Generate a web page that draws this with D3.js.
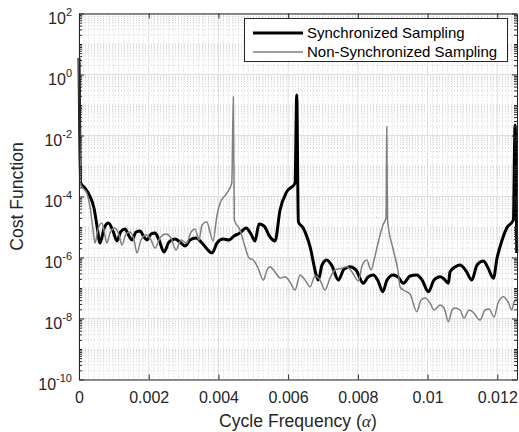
<!DOCTYPE html>
<html>
<head>
<meta charset="utf-8">
<script src="https://cdn.jsdelivr.net/npm/d3@7"></script>
<style>
    body { margin: 0; background: #ffffff; }
    svg { display: block; font-family: "Liberation Sans", Arial, sans-serif; }
</style>
</head>
<body>
<script>
(function(){

    //values: [cycle frequency, cost function]
    var synchData = [
        [0, 3.5], [0.049e-3, 2.77e-4], [0.172e-3, 1.90e-4], [0.316e-3, 1.0e-4],
        [0.430e-3, 4.20e-5], [0.516e-3, 1.08e-5], [0.603e-3, 2.99e-6], [0.732e-3, 1.0e-5],
        [0.846e-3, 1.35e-5], [0.976e-3, 7.39e-6], [1.090e-3, 3.48e-6], [1.191e-3, 6.86e-6],
        [1.320e-3, 8.60e-6], [1.435e-3, 5.07e-6], [1.521e-3, 3.75e-6], [1.636e-3, 6.86e-6],
        [1.750e-3, 7.39e-6], [1.865e-3, 4.70e-6], [1.951e-3, 3.75e-6], [2.066e-3, 5.89e-6],
        [2.181e-3, 6.36e-6], [2.296e-3, 3.75e-6], [2.439e-3, 1.51e-6], [2.582e-3, 3.22e-6],
        [2.755e-3, 4.04e-6], [2.898e-3, 3.22e-6], [3.042e-3, 2.38e-6], [3.185e-3, 3.75e-6],
        [3.357e-3, 4.36e-6], [3.529e-3, 2.99e-6], [3.673e-3, 1.90e-6], [3.816e-3, 1.41e-6],
        [3.960e-3, 2.99e-6], [4.132e-3, 4.04e-6], [4.304e-3, 3.75e-6], [4.448e-3, 5.07e-6],
        [4.620e-3, 6.36e-6], [4.792e-3, 9.27e-6], [4.935e-3, 5.89e-6], [5.050e-3, 3.48e-6],
        [5.165e-3, 1.25e-5], [5.308e-3, 1.08e-5], [5.481e-3, 4.70e-6], [5.624e-3, 3.48e-6],
        [5.768e-3, 3.61e-5], [5.960e-3, 1.44e-4], [6.198e-3, 2.71e-4], [6.247e-3, 2.13e-1],
        [6.293e-3, 1.49e-5], [6.436e-3, 9.06e-6], [6.628e-3, 2.26e-6], [6.821e-3, 2.34e-7],
        [6.867e-3, 1.83e-7], [6.973e-3, 5.68e-7], [7.108e-3, 8.28e-7], [7.260e-3, 5.26e-7],
        [7.441e-3, 1.83e-7], [7.604e-3, 4.20e-7], [7.776e-3, 4.99e-7], [7.948e-3, 3.89e-7],
        [8.158e-3, 1.43e-7], [8.293e-3, 2.30e-7], [8.445e-3, 2.67e-7], [8.580e-3, 1.70e-7],
        [8.714e-3, 7.56e-8], [8.838e-3, 1.83e-7], [9.018e-3, 2.67e-7], [9.153e-3, 2.30e-7],
        [9.306e-3, 1.43e-7], [9.498e-3, 2.47e-7], [9.690e-3, 2.67e-7], [9.842e-3, 1.83e-7],
        [10.023e-3, 7.56e-8], [10.186e-3, 1.83e-7], [10.359e-3, 2.34e-7], [10.473e-3, 1.97e-7],
        [10.597e-3, 1.43e-7], [10.646e-3, 3.42e-7], [10.789e-3, 4.88e-7], [10.932e-3, 5.68e-7],
        [11.105e-3, 3.61e-7], [11.268e-3, 1.83e-7], [11.420e-3, 5.68e-7], [11.601e-3, 7.68e-7],
        [11.736e-3, 4.53e-7], [11.888e-3, 2.08e-7], [11.994e-3, 9.64e-7], [12.080e-3, 2.26e-6],
        [12.272e-3, 9.27e-6], [12.462e-3, 1.70e-5], [12.511e-3, 2.21e-2], [12.559e-3, 1.41e-6]
    ];

    var nonSynchData = [
        [0, 3.5], [0.049e-3, 2.38e-4], [0.221e-3, 1.30e-4], [0.316e-3, 4.63e-5],
        [0.402e-3, 7.97e-6], [0.459e-3, 2.99e-6], [0.545e-3, 8.60e-6], [0.651e-3, 1.35e-5],
        [0.717e-3, 7.97e-6], [0.795e-3, 2.99e-6], [0.890e-3, 6.36e-6], [1.033e-3, 9.27e-6],
        [1.148e-3, 5.47e-6], [1.234e-3, 2.57e-6], [1.349e-3, 5.89e-6], [1.463e-3, 6.86e-6],
        [1.578e-3, 3.75e-6], [1.664e-3, 1.41e-6], [1.779e-3, 3.75e-6], [1.922e-3, 5.47e-6],
        [2.066e-3, 3.75e-6], [2.181e-3, 2.05e-6], [2.324e-3, 4.36e-6], [2.496e-3, 5.89e-6],
        [2.640e-3, 4.36e-6], [2.783e-3, 1.76e-6], [2.927e-3, 3.75e-6], [3.090e-3, 2.99e-6],
        [3.214e-3, 6.86e-6], [3.329e-3, 8.60e-6], [3.443e-3, 3.75e-6], [3.529e-3, 1.16e-5],
        [3.664e-3, 1.49e-5], [3.759e-3, 6.86e-6], [3.845e-3, 3.48e-6], [3.960e-3, 2.47e-5],
        [4.046e-3, 5.98e-5], [4.238e-3, 1.27e-4], [4.382e-3, 2.71e-4], [4.428e-3, 1.87e-1],
        [4.456e-3, 1.70e-5], [4.620e-3, 7.97e-6], [4.763e-3, 2.26e-6], [4.878e-3, 9.64e-7],
        [5.001e-3, 8.28e-7], [5.136e-3, 4.53e-7], [5.288e-3, 1.83e-7], [5.394e-3, 3.89e-7],
        [5.481e-3, 4.99e-7], [5.624e-3, 3.35e-7], [5.768e-3, 2.13e-7], [5.911e-3, 2.34e-7],
        [6.055e-3, 1.57e-7], [6.198e-3, 8.6e-8], [6.341e-3, 2.67e-7], [6.485e-3, 1.83e-7],
        [6.628e-3, 1.10e-7], [6.772e-3, 2.47e-7], [6.915e-3, 1.83e-7], [7.059e-3, 8.6e-8],
        [7.202e-3, 2.13e-7], [7.346e-3, 3.89e-7], [7.538e-3, 4.43e-7], [7.681e-3, 4.99e-7],
        [7.833e-3, 3.35e-7], [8.014e-3, 1.70e-7], [8.120e-3, 5.26e-7], [8.255e-3, 8.28e-7],
        [8.379e-3, 3.89e-7], [8.465e-3, 8.28e-7], [8.580e-3, 2.99e-6], [8.732e-3, 1.25e-5],
        [8.809e-3, 1.97e-5], [8.829e-3, 1.95e-2], [8.852e-3, 1.70e-5], [9.018e-3, 1.76e-6],
        [9.162e-3, 3.10e-7], [9.211e-3, 1.08e-7], [9.354e-3, 7.97e-8], [9.498e-3, 6.36e-8],
        [9.690e-3, 1.67e-8], [9.813e-3, 4.04e-8], [9.928e-3, 4.70e-8], [10.072e-3, 3.22e-8],
        [10.186e-3, 1.90e-8], [10.359e-3, 2.77e-8], [10.473e-3, 2.21e-8], [10.597e-3, 7.85e-9],
        [10.703e-3, 1.90e-8], [10.789e-3, 2.21e-8], [10.932e-3, 1.90e-8], [11.047e-3, 1.04e-8],
        [11.191e-3, 1.90e-8], [11.305e-3, 1.63e-8], [11.506e-3, 8.93e-9], [11.650e-3, 1.90e-8],
        [11.765e-3, 2.05e-8], [11.908e-3, 1.12e-8], [12.023e-3, 3.22e-8], [12.175e-3, 5.19e-8],
        [12.309e-3, 3.48e-8], [12.416e-3, 1.90e-8], [12.482e-3, 3.48e-8], [12.568e-3, 4.36e-8]
    ];

    //tick values and labels
    var xTicks = [0, 0.002, 0.004, 0.006, 0.008, 0.01, 0.012];
    var xTickLabels = ["0", "0.002", "0.004", "0.006", "0.008", "0.01", "0.012"];
    var yTickExps = [2, 0, -2, -4, -6, -8, -10];
    var seriesNames = ["Synchronized Sampling", "Non-Synchronized Sampling"];
    var xDomain = [0, 0.012566],
        yDomain = [1e-10, 1e2];

    window.onload = setChart();

    function setChart(){

        //frame dimensions
        var width = 519,
            height = 432,
            left = 79,
            right = 517,
            top = 13.5,
            bottom = 379.5,
            axisColor = "#262626";

        var svg = d3.select("body")
            .append("svg")
            .attr("width", width)
            .attr("height", height);

        var x = d3.scaleLinear()
            .domain(xDomain)
            .range([left, right]);

        var y = d3.scaleLog()
            .domain(yDomain)
            .range([bottom, top]);

        //minor grid positions (14 divisions per major x step, 2..9 per decade in y)
        var xStep = (xTicks[1] - xTicks[0]) / 14;
        var xMinor = d3.range(1, Math.floor(xDomain[1] / xStep) + 1)
            .filter(function(k){ return k % 14 !== 0; })
            .map(function(k){ return k * xStep; });

        var yMajor = yTickExps.map(function(e){ return Math.pow(10, e); });
        var yMinor = [];
        for (var e = -10; e < 2; e++){
            for (var m = 1; m < 10; m++){
                if (m == 1 && e % 2 === 0) continue;
                yMinor.push(m * Math.pow(10, e));
            }
        }

        //white plot background
        svg.append("rect")
            .attr("x", left)
            .attr("y", top)
            .attr("width", right - left)
            .attr("height", bottom - top)
            .attr("fill", "#ffffff");

        //minor grid, dotted
        var grid = svg.append("g").attr("class", "grid");
        grid.selectAll(".xMinor")
            .data(xMinor)
            .enter()
            .append("line")
            .attr("class", "xMinor")
            .attr("x1", function(d){ return x(d); })
            .attr("x2", function(d){ return x(d); })
            .attr("y1", top)
            .attr("y2", bottom)
            .attr("stroke", "#d2d2d2")
            .attr("stroke-dasharray", "1,2");

        grid.selectAll(".yMinor")
            .data(yMinor)
            .enter()
            .append("line")
            .attr("class", "yMinor")
            .attr("x1", left)
            .attr("x2", right)
            .attr("y1", function(d){ return y(d); })
            .attr("y2", function(d){ return y(d); })
            .attr("stroke", "#d2d2d2")
            .attr("stroke-dasharray", "1,2");

        //major grid, solid
        grid.selectAll(".xMajor")
            .data(xTicks)
            .enter()
            .append("line")
            .attr("class", "xMajor")
            .attr("x1", function(d){ return x(d); })
            .attr("x2", function(d){ return x(d); })
            .attr("y1", top)
            .attr("y2", bottom)
            .attr("stroke", "#dfdfdf");

        grid.selectAll(".yMajor")
            .data(yMajor)
            .enter()
            .append("line")
            .attr("class", "yMajor")
            .attr("x1", left)
            .attr("x2", right)
            .attr("y1", function(d){ return y(d); })
            .attr("y2", function(d){ return y(d); })
            .attr("stroke", "#dfdfdf");

        //clip lines near the plot box (a little slack so lines on the edge stay visible)
        svg.append("clipPath")
            .attr("id", "plotClip")
            .append("rect")
            .attr("x", left - 2)
            .attr("y", top)
            .attr("width", right - left + 4)
            .attr("height", bottom - top);

        var line = d3.line()
            .x(function(d){ return x(d[0]); })
            .y(function(d){ return y(d[1]); })
            .curve(d3.curveMonotoneX);

        var lines = svg.append("g").attr("clip-path", "url(#plotClip)");

        lines.append("path")
            .datum(synchData)
            .attr("class", "synch")
            .attr("d", line)
            .attr("fill", "none")
            .attr("stroke", "#000000")
            .attr("stroke-width", 3)
            .attr("stroke-linejoin", "round");

        lines.append("path")
            .datum(nonSynchData)
            .attr("class", "nonSynch")
            .attr("d", line)
            .attr("fill", "none")
            .attr("stroke", "#808080")
            .attr("stroke-width", 1.5)
            .attr("stroke-linejoin", "round");

        //axes with inward ticks
        var xAxis = d3.axisBottom(x)
            .tickValues(xTicks)
            .tickFormat(function(d, i){ return xTickLabels[i]; })
            .tickSizeInner(-5)
            .tickSizeOuter(0)
            .tickPadding(12.5);

        var xTop = d3.axisTop(x)
            .tickValues(xTicks)
            .tickFormat("")
            .tickSizeInner(-5)
            .tickSizeOuter(0);

        var yAxis = d3.axisLeft(y)
            .tickValues(yMajor)
            .tickFormat("")
            .tickSizeInner(-5)
            .tickSizeOuter(0)
            .tickPadding(7);

        var yRight = d3.axisRight(y)
            .tickValues(yMajor)
            .tickFormat("")
            .tickSizeInner(-5)
            .tickSizeOuter(0);

        var yMinorLeft = d3.axisLeft(y)
            .tickValues(yMinor)
            .tickFormat("")
            .tickSizeInner(-3)
            .tickSizeOuter(0);

        var yMinorRight = d3.axisRight(y)
            .tickValues(yMinor)
            .tickFormat("")
            .tickSizeInner(-3)
            .tickSizeOuter(0);

        var gx = svg.append("g")
            .attr("transform", "translate(0," + bottom + ")")
            .call(xAxis);
        var gxTop = svg.append("g")
            .attr("transform", "translate(0," + top + ")")
            .call(xTop);
        var gy = svg.append("g")
            .attr("transform", "translate(" + left + ",0)")
            .call(yAxis);
        var gyRight = svg.append("g")
            .attr("transform", "translate(" + right + ",0)")
            .call(yRight);
        var gyMinL = svg.append("g")
            .attr("transform", "translate(" + left + ",0)")
            .call(yMinorLeft);
        var gyMinR = svg.append("g")
            .attr("transform", "translate(" + right + ",0)")
            .call(yMinorRight);

        [gx, gxTop, gy, gyRight, gyMinL, gyMinR].forEach(function(g){
            g.attr("font-family", null).attr("font-size", 16);
            g.select(".domain").attr("stroke", axisColor);
            g.selectAll(".tick line").attr("stroke", axisColor);
            g.selectAll(".tick text").attr("fill", axisColor);
        });

        //10^n labels on the y axis
        gy.selectAll(".tick text").each(function(d, i){
            var t = d3.select(this)
                .attr("dy", null)
                .attr("y", 9.5);
            t.append("tspan").text("10");
            t.append("tspan")
                .attr("font-size", 11)
                .attr("dy", -8)
                .text(yTickExps[i]);
        });

        //axis titles
        svg.append("text")
            .attr("x", (left + right) / 2)
            .attr("y", 427)
            .attr("text-anchor", "middle")
            .attr("font-size", 17.6)
            .attr("fill", axisColor)
            .text("Cycle Frequency (")
            .append("tspan")
            .attr("font-family", "'Liberation Serif', serif")
            .attr("font-style", "italic")
            .text("\u03b1")
            .select(function(){ return this.parentNode; })
            .append("tspan")
            .text(")");

        svg.append("text")
            .attr("transform", "translate(23," + ((top + bottom) / 2) + ") rotate(-90)")
            .attr("text-anchor", "middle")
            .attr("font-size", 17.6)
            .attr("fill", axisColor)
            .text("Cost Function");

        //legend
        var legend = svg.append("g").attr("class", "legend");
        legend.append("rect")
            .attr("x", 244.5)
            .attr("y", 18.5)
            .attr("width", 263)
            .attr("height", 43)
            .attr("fill", "#ffffff")
            .attr("stroke", axisColor);

        var legendStyles = [
            {color: "#000000", width: 3},
            {color: "#808080", width: 1.5}
        ];

        seriesNames.forEach(function(name, i){
            var rowY = 33 + i * 19;
            legend.append("line")
                .attr("x1", 253)
                .attr("x2", 303)
                .attr("y1", rowY)
                .attr("y2", rowY)
                .attr("stroke", legendStyles[i].color)
                .attr("stroke-width", legendStyles[i].width);
            legend.append("text")
                .attr("x", 307)
                .attr("y", rowY + 5.3)
                .attr("font-size", 15)
                .attr("fill", "#000000")
                .text(name);
        });
    };
})();
</script>
</body>
</html>
